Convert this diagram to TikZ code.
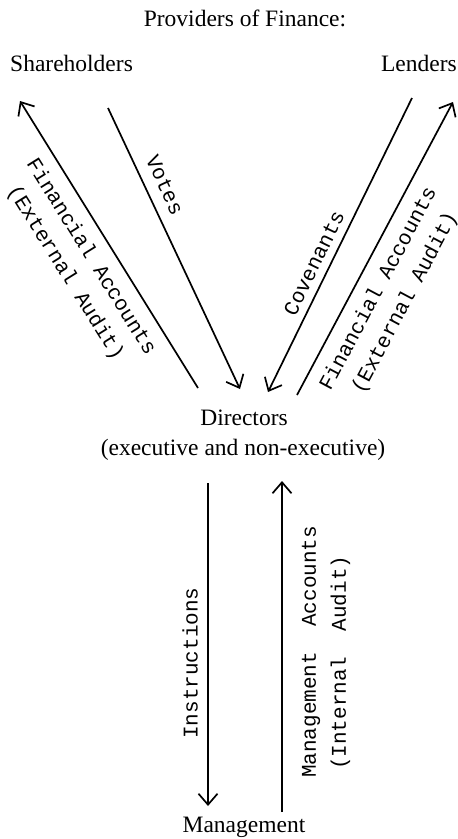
\documentclass[tikz,border=0pt]{standalone}
\usepackage{fontspec}
\setmainfont{Liberation Serif}
\setmonofont{Liberation Mono}
\usetikzlibrary{arrows.meta}
\begin{document}
\begin{tikzpicture}[x=1pt,y=-1pt,
  lbl/.style={font=\fontsize{23.5}{30}\selectfont, inner sep=0pt},
  mono/.style={font=\ttfamily\fontsize{21}{30}\selectfont, align=center, inner sep=0pt},
  arr/.style={line width=1.7pt, -{Straight Barb[length=11pt,width=19pt,line width=1.7pt]}}]
\useasboundingbox (0,0) rectangle (458,839);
% nodes
\node[lbl, anchor=base] (title) at (245,26) {Providers of Finance:};
\node[lbl, anchor=base west] (sh) at (10,71) {Shareholders};
\node[lbl, anchor=base east] (len) at (457,71) {Lenders};
\node[lbl, anchor=base] (dir) at (244,425) {Directors};
\node[lbl, anchor=base] (dirnote) at (243,455) {(executive and non-executive)};
\node[lbl, anchor=base] (mgmt) at (244,832) {Management};
% arrow end points
\coordinate (fa1s) at (198,388); \coordinate (fa1e) at (20,101);
\coordinate (vs) at (108,108);   \coordinate (ve) at (240,389);
\coordinate (cs) at (412,98);    \coordinate (ce) at (268,392);
\coordinate (fa2s) at (297,395); \coordinate (fa2e) at (453,102);
\coordinate (is) at (208,483);   \coordinate (ie) at (208,806);
\coordinate (ms) at (282,812);   \coordinate (me) at (282,481);
% connectors
\draw[arr] (fa1s) -- (fa1e);
\draw[arr] (vs) -- (ve);
\draw[arr] (cs) -- (ce);
\draw[arr] (fa2s) -- (fa2e);
\draw[arr] (is) -- (ie);
\draw[arr] (ms) -- (me);
% labels
\node[mono, rotate=-58] (fal) at (78,265) {Financial Accounts\\(External Audit)};
\node[mono, rotate=-65] (vl) at (165,185) {Votes};
\node[mono, rotate=64] (cl) at (314,263) {Covenants};
\node[mono, rotate=62] (far) at (392,296) {Financial Accounts\\(External Audit)};
\node[mono, rotate=90] (il) at (190,663) {Instructions};
\node[mono, rotate=90, align=left, anchor=west] (mal) at (326,778) {Management\ \ Accounts\\\hspace*{8pt}(Internal\ \ Audit)};
\end{tikzpicture}
\end{document}
